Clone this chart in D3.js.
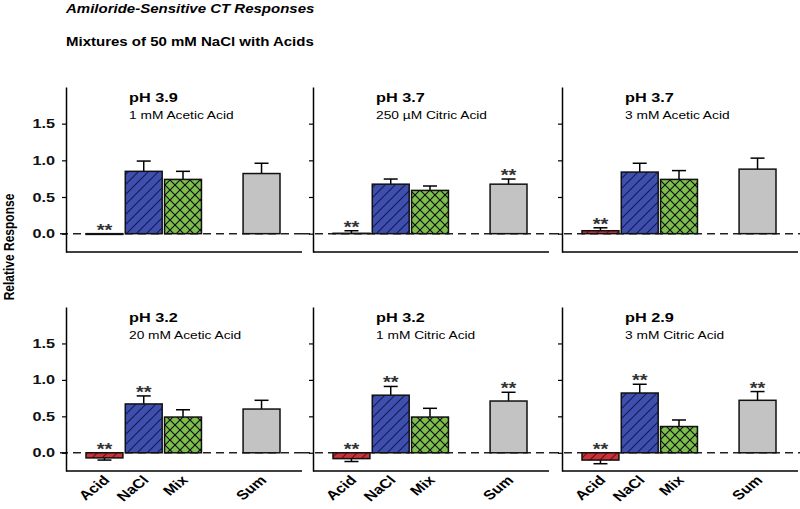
<!DOCTYPE html>
<html>
<head>
<meta charset="utf-8">
<script src="https://cdn.jsdelivr.net/npm/d3@7"></script>
<style>
  body { margin: 0; background: #fff; }
  svg { font-family: "Liberation Sans", Arial, sans-serif; }
</style>
</head>
<body>
<div id="chart"></div>
<script>
const width = 800;
const height = 509;
const stretch = 1.25; // the figure is a bit wider than tall, text included

// data
const categories = ["Acid", "NaCl", "Mix", "Sum"];
const slots = ["Acid", "NaCl", "Mix", "", "Sum"];
const panelPH = ["pH 3.9", "pH 3.7", "pH 3.7", "pH 3.2", "pH 3.2", "pH 2.9"];
const panelAcid = ["1 mM Acetic Acid", "250 µM Citric Acid", "3 mM Acetic Acid",
                   "20 mM Acetic Acid", "1 mM Citric Acid", "3 mM Citric Acid"];
const means = [
    [-0.01, 0.85, 0.74, 0.82],
    [0.005, 0.675, 0.59, 0.675],
    [0.04, 0.84, 0.74, 0.88],
    [-0.07, 0.67, 0.49, 0.60],
    [-0.08, 0.79, 0.49, 0.71],
    [-0.10, 0.82, 0.36, 0.72]
];
const errors = [
    [0, 0.14, 0.11, 0.14],
    [0.035, 0.07, 0.06, 0.07],
    [0.04, 0.12, 0.12, 0.15],
    [0.03, 0.11, 0.10, 0.12],
    [0.04, 0.12, 0.12, 0.12],
    [0.05, 0.12, 0.09, 0.12]
];
const significant = [
    [1, 0, 0, 0],
    [1, 0, 0, 1],
    [1, 0, 0, 0],
    [1, 1, 0, 0],
    [1, 1, 0, 1],
    [1, 1, 0, 1]
];
const yTicks = [0, 0.5, 1.0, 1.5];

const fills = { "Acid": "url(#hatchRed)", "NaCl": "url(#hatchBlue)", "Mix": "url(#crossGreen)", "Sum": "#c3c3c3" };

const panelX = [66, 313, 562];
const panelW = 236;
const rowTop = [87, 307];
const rowBottom = [252, 471];

const svg = d3.select("#chart").append("svg")
    .attr("width", width)
    .attr("height", height);

// hatch patterns
const defs = svg.append("defs");
function hatch(id, bg, line, cross) {
    const p = defs.append("pattern")
        .attr("id", id)
        .attr("patternUnits", "userSpaceOnUse")
        .attr("width", 10).attr("height", 10);
    p.append("rect").attr("width", 10).attr("height", 10).attr("fill", bg);
    p.append("path")
        .attr("d", "M-1,11 L11,-1 M-6,6 L6,-6 M4,16 L16,4")
        .attr("stroke", line).attr("stroke-width", 1.2);
    if (cross) {
        p.append("path")
            .attr("d", "M-1,-1 L11,11 M4,-6 L16,6 M-6,4 L6,16")
            .attr("stroke", line).attr("stroke-width", 1.2);
    }
}
hatch("hatchRed", "#c9323a", "#6a1010", false);
hatch("hatchBlue", "#3f4fae", "#141c55", false);
hatch("crossGreen", "#7dbf4c", "#111", true);

// text that is widened like the rest of the figure
function label(parent, x, y, str, size, opts = {}) {
    return parent.append("text")
        .attr("transform", `translate(${x},${y}) scale(${stretch},1)` + (opts.rotate ? ` rotate(${opts.rotate})` : ""))
        .attr("text-anchor", opts.anchor || "start")
        .attr("font-size", size + "px")
        .attr("font-weight", opts.weight || "normal")
        .attr("font-style", opts.style || "normal")
        .attr("fill", opts.fill || "#000")
        .text(str);
}

// titles
label(svg, 66, 13, "Amiloride-Sensitive CT Responses", 12, { weight: "bold", style: "italic" });
label(svg, 66, 46, "Mixtures of 50 mM NaCl with Acids", 12, { weight: "bold" });
label(svg, 14, 247, "Relative Response", 12, { weight: "bold", anchor: "middle", rotate: -90 });

for (let p = 0; p < 6; p++) {
    const row = Math.floor(p / 3);
    const col = p % 3;
    const x0 = panelX[col];

    const y = d3.scaleLinear().domain([-0.25, 2.0]).range([rowBottom[row], rowTop[row]]);
    const x = d3.scaleBand().domain(slots).range([x0 + 20, x0 + 214]).paddingInner(0.06);

    const g = svg.append("g");

    // zero reference line spanning into the gap
    g.append("line")
        .attr("x1", col === 0 ? x0 - 6 : x0 - 11).attr("x2", x0 + panelW + 2)
        .attr("y1", y(0)).attr("y2", y(0))
        .attr("stroke", "#222").attr("stroke-width", 1.5)
        .attr("stroke-dasharray", "8,5");

    // y axis
    const yAxis = d3.axisLeft(y).tickValues(yTicks).tickSize(4).tickSizeOuter(0).tickFormat("");
    const ya = g.append("g").attr("transform", `translate(${x0},0)`).call(yAxis);
    ya.select(".domain").attr("stroke-width", 1.5);
    ya.selectAll(".tick line").attr("stroke-width", 1.2);
    if (col === 0) {
        yTicks.forEach(t => {
            label(g, x0 - 11, y(t) + 4.5, d3.format(".1f")(t), 13, { weight: "bold", anchor: "end", fill: "#111" });
        });
    }

    // x axis line
    g.append("line")
        .attr("x1", x0).attr("x2", x0 + panelW)
        .attr("y1", y(-0.25)).attr("y2", y(-0.25))
        .attr("stroke", "#000").attr("stroke-width", 1.5);

    // panel headings
    label(g, x0 + 63, rowTop[row] + 15, panelPH[p], 13, { weight: "bold" });
    label(g, x0 + 63, rowTop[row] + 32, panelAcid[p], 11);

    const data = categories.map((c, i) => ({
        cat: c, v: means[p][i], e: errors[p][i], sig: significant[p][i]
    }));

    // error bars
    data.forEach(d => {
        if (d.e <= 0) return;
        const cx = x(d.cat) + x.bandwidth() / 2;
        const tip = d.v >= 0 ? d.v + d.e : d.v - d.e;
        g.append("line")
            .attr("x1", cx).attr("x2", cx)
            .attr("y1", y(d.v)).attr("y2", y(tip))
            .attr("stroke", "#000").attr("stroke-width", 1.5);
        g.append("line")
            .attr("x1", cx - 7).attr("x2", cx + 7)
            .attr("y1", y(tip)).attr("y2", y(tip))
            .attr("stroke", "#000").attr("stroke-width", 1.5);
    });

    // bars
    g.selectAll("rect.bar")
        .data(data)
        .enter()
        .append("rect")
        .attr("class", "bar")
        .attr("x", d => x(d.cat))
        .attr("width", x.bandwidth())
        .attr("y", d => y(Math.max(0, d.v)))
        .attr("height", d => Math.abs(y(d.v) - y(0)))
        .attr("fill", d => fills[d.cat])
        .attr("stroke", "#111")
        .attr("stroke-width", 1.5);

    // significance stars
    data.filter(d => d.sig).forEach(d => {
        const top = d.v >= 0 ? d.v + d.e : 0;
        label(g, x(d.cat) + x.bandwidth() / 2, y(top) + 2, "**", 16, { anchor: "middle", weight: "bold", fill: "#333" });
    });

    // category labels on bottom row
    if (row === 1) {
        categories.forEach(c => {
            label(g, x(c) + x.bandwidth() / 2 + 6, rowBottom[row] + 10, c, 13, { weight: "bold", anchor: "end", rotate: -45 });
        });
    }
}
</script>
</body>
</html>
